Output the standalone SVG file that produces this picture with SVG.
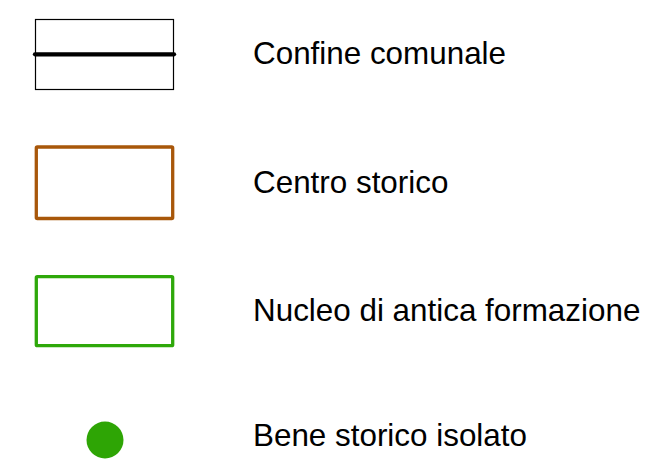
<svg xmlns="http://www.w3.org/2000/svg" width="649" height="474" viewBox="0 0 649 474">
<style>
.lbl{font-family:"Liberation Sans",Arial,sans-serif;font-size:31.4px;fill:#000}
.box{fill:#fff}
</style>
<rect width="649" height="474" fill="#fff"/>
<g id="confine">
<rect class="box" x="35.5" y="19.5" width="138" height="70" stroke="#000" stroke-width="1.2"/>
<line x1="35" y1="54.3" x2="174" y2="54.3" stroke="#000" stroke-width="4.3" stroke-linecap="round"/>
<text class="lbl" x="253" y="64">Confine comunale</text>
</g>
<g id="centro">
<rect class="box" x="36.3" y="147" width="136.4" height="71.5" rx="1" stroke="#A8570A" stroke-width="3.3"/>
<text class="lbl" x="253" y="192.5">Centro storico</text>
</g>
<g id="nucleo">
<rect class="box" x="36.3" y="276.7" width="136.4" height="69" rx="1" stroke="#2EA80A" stroke-width="3.3"/>
<text class="lbl" x="253" y="321">Nucleo di antica formazione</text>
</g>
<g id="bene">
<circle cx="105" cy="440" r="18.5" fill="#2EA505"/>
<text class="lbl" x="253" y="446">Bene storico isolato</text>
</g>
</svg>
